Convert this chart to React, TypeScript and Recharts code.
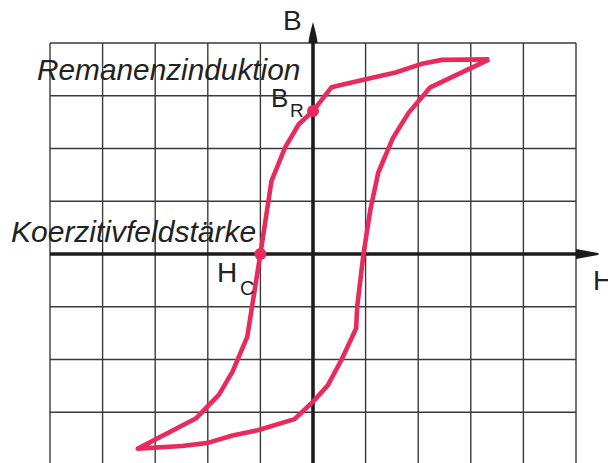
import React from "react";
import {
  ScatterChart,
  Scatter,
  XAxis,
  YAxis,
  ReferenceLine,
  ReferenceDot,
} from "recharts";

// Axis ticks (grid lines) in field strength H and induction B units
const hTicks = [-5, -4, -3, -2, -1, 0, 1, 2, 3, 4, 5];
const bTicks = [-4, -3, -2, -1, 0, 1, 2, 3, 4];

// Upper (descending) branch: from positive saturation to negative saturation
const upperH = [3.35, 2.45, 2.05, 1.57, 0.98, 0.35, 0.0, -0.27, -0.53, -0.79, -1.0, -1.25, -1.53, -1.79, -2.23, -3.33];
const upperB = [3.69, 3.68, 3.6, 3.44, 3.31, 3.16, 2.71, 2.46, 2.02, 1.38, 0.0, -1.57, -2.23, -2.67, -3.12, -3.69];

// Lower (ascending) branch: from negative saturation back to positive saturation
const lowerH = [-2.49, -2.0, -1.53, -1.05, -0.35, 0.0, 0.28, 0.54, 0.82, 0.84, 0.96, 1.09, 1.24, 1.52, 1.82, 2.23, 3.35];
const lowerB = [-3.64, -3.58, -3.44, -3.34, -3.13, -2.8, -2.49, -2.01, -1.41, -1.0, 0.0, 0.84, 1.54, 2.2, 2.68, 3.16, 3.69];

// Marked points
const remanence = { h: 0, b: 2.71 };
const coercivity = { h: -1.0, b: 0 };

const RED = "#E92A5C";
const AXIS = "#1c1c1c";
const GRID = "#3a3a3a";
const FONT = '"Liberation Sans", Arial, Helvetica, sans-serif';

const loop = [
  ...upperH.map((h, i) => ({ h, b: upperB[i] })),
  ...lowerH.map((h, i) => ({ h, b: lowerB[i] })),
];

const VerticalAxisShape = (props: any) => {
  const { x1, y1, y2 } = props;
  const top = Math.min(y1, y2);
  const bottom = Math.max(y1, y2);
  return (
    <g>
      <line x1={x1} y1={bottom} x2={x1} y2={top} stroke={AXIS} strokeWidth={3.6} />
      <path
        d={`M${x1},${top - 21} C${x1 + 2},${top - 14} ${x1 + 4.5},${top - 4} ${x1 + 4.5},${top} L${x1 - 4.5},${top} C${x1 - 4.5},${top - 4} ${x1 - 2},${top - 14} ${x1},${top - 21} Z`}
        fill={AXIS}
      />
    </g>
  );
};

const HorizontalAxisShape = (props: any) => {
  const { x1, x2, y1 } = props;
  const left = Math.min(x1, x2);
  const right = Math.max(x1, x2);
  return (
    <g>
      <line x1={left} y1={y1} x2={right} y2={y1} stroke={AXIS} strokeWidth={3.6} />
      <path
        d={`M${right},${y1 - 5} L${right + 22},${y1 - 1} L${right + 23},${y1} L${right + 22},${y1 + 1} L${right},${y1 + 5} Z`}
        fill={AXIS}
      />
    </g>
  );
};

const NoShape = () => <g />;

export default function App() {
  return (
    <div style={{ position: "absolute", left: 0, top: 0, width: 608, height: 463, overflow: "hidden", background: "#fff" }}>
      <ScatterChart width={608} height={470} margin={{ top: 43, right: 32, bottom: 5, left: 50 }}>
        <XAxis
          type="number"
          dataKey="h"
          domain={[-5, 5]}
          ticks={hTicks}
          tick={false}
          tickLine={false}
          axisLine={false}
          height={0}
          allowDataOverflow
        />
        <YAxis
          type="number"
          dataKey="b"
          domain={[-4, 4]}
          ticks={bTicks}
          tick={false}
          tickLine={false}
          axisLine={false}
          width={0}
          allowDataOverflow
        />
        {hTicks.map((t) => (
          <ReferenceLine key={`gx${t}`} x={t} stroke={GRID} strokeWidth={1.4} ifOverflow="visible" />
        ))}
        {bTicks.map((t) => (
          <ReferenceLine key={`gy${t}`} y={t} stroke={GRID} strokeWidth={1.4} ifOverflow="visible" />
        ))}
        <ReferenceLine y={0} shape={HorizontalAxisShape} />
        <ReferenceLine x={0} shape={VerticalAxisShape} />
        <Scatter
          data={loop}
          isAnimationActive={false}
          fill={RED}
          line={{ stroke: RED, strokeWidth: 4.6, strokeLinejoin: "round", strokeLinecap: "butt" }}
          lineType="joint"
          shape={NoShape}
        />
        <ReferenceDot x={remanence.h} y={remanence.b} r={6} fill={RED} stroke="none" />
        <ReferenceDot x={coercivity.h} y={coercivity.b} r={6} fill={RED} stroke="none" />
      </ScatterChart>
      <svg
        width={608}
        height={463}
        style={{ position: "absolute", left: 0, top: 0, pointerEvents: "none" }}
        fontFamily={FONT}
        fill="#222"
      >
        <text x={283} y={29.5} fontSize={28}>B</text>
        <text x={37} y={79.5} fontSize={29.8} fontStyle="italic">Remanenzinduktion</text>
        <text x={271} y={106.5} fontSize={26}>B</text>
        <text x={290} y={116.5} fontSize={19}>R</text>
        <text x={11} y={241.5} fontSize={30} fontStyle="italic">Koerzitivfeldstärke</text>
        <text x={217} y={281.5} fontSize={28}>H</text>
        <text x={240} y={295} fontSize={20}>C</text>
        <text x={593} y={290} fontSize={28}>H</text>
      </svg>
    </div>
  );
}
